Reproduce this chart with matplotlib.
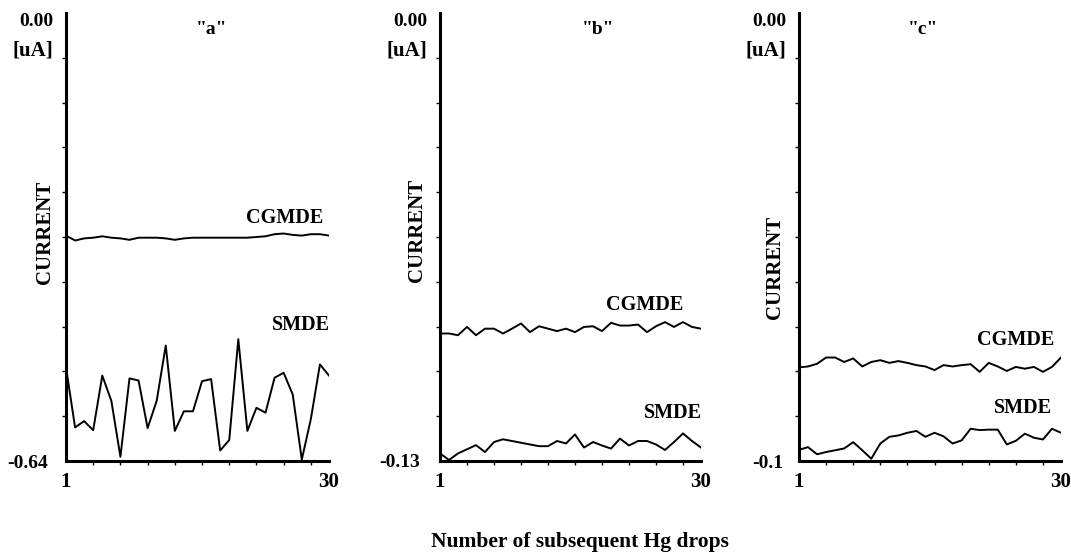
import matplotlib
matplotlib.use('Agg')
import matplotlib.pyplot as plt
import numpy as np

plt.rcParams['font.family'] = ['Liberation Serif', 'DejaVu Serif']
plt.rcParams['font.weight'] = 'bold'

drops = list(range(1, 31))

# panel "a" (0 .. -0.64 uA)
cgmde_a = [-0.318, -0.325, -0.322, -0.321, -0.319, -0.321, -0.322, -0.324, -0.321, -0.321,
           -0.321, -0.322, -0.324, -0.322, -0.321, -0.321, -0.321, -0.321, -0.321, -0.321,
           -0.321, -0.320, -0.319, -0.316, -0.315, -0.317, -0.318, -0.316, -0.316, -0.318]
smde_a = [-0.506, -0.592, -0.583, -0.596, -0.518, -0.554, -0.634, -0.522, -0.525, -0.593,
          -0.554, -0.475, -0.597, -0.569, -0.569, -0.526, -0.523, -0.625, -0.610, -0.466,
          -0.597, -0.564, -0.571, -0.521, -0.514, -0.545, -0.638, -0.580, -0.502, -0.518]

# panel "b" (0 .. -0.13 uA)
cgmde_b = [-0.0930, -0.0930, -0.0935, -0.0911, -0.0935, -0.0916, -0.0916, -0.0930, -0.0916, -0.0901,
           -0.0926, -0.0909, -0.0916, -0.0923, -0.0916, -0.0926, -0.0911, -0.0909, -0.0923, -0.0899,
           -0.0907, -0.0907, -0.0904, -0.0926, -0.0909, -0.0897, -0.0911, -0.0897, -0.0911, -0.0916]
smde_b = [-0.1278, -0.1297, -0.1278, -0.1266, -0.1254, -0.1274, -0.1245, -0.1237, -0.1242, -0.1247,
          -0.1252, -0.1257, -0.1257, -0.1242, -0.1249, -0.1223, -0.1261, -0.1245, -0.1255, -0.1264,
          -0.1235, -0.1255, -0.1242, -0.1242, -0.1252, -0.1268, -0.1245, -0.1220, -0.1242, -0.1261]

# panel "c" (0 .. -0.1 uA)
cgmde_c = [-0.0791, -0.0789, -0.0783, -0.0769, -0.0769, -0.0779, -0.0771, -0.0789, -0.0779, -0.0775,
           -0.0781, -0.0777, -0.0781, -0.0786, -0.0789, -0.0797, -0.0786, -0.0789, -0.0786, -0.0784,
           -0.0801, -0.0781, -0.0789, -0.0799, -0.0790, -0.0794, -0.0790, -0.0801, -0.0790, -0.0769]
smde_c = [-0.0975, -0.0969, -0.0985, -0.0980, -0.0976, -0.0972, -0.0958, -0.0976, -0.0995, -0.0961,
          -0.0946, -0.0943, -0.0937, -0.0933, -0.0946, -0.0937, -0.0945, -0.0961, -0.0954, -0.0928,
          -0.0931, -0.0930, -0.0930, -0.0963, -0.0955, -0.0939, -0.0948, -0.0952, -0.0928, -0.0937]

titles = ['"a"', '"b"', '"c"']
ymin_labels = ['-0.64', '-0.13', '-0.1']
ymins = [-0.64, -0.13, -0.1]

W, H = 1071, 552
fig = plt.figure(figsize=(W / 100, H / 100), dpi=100)

def fx(x):
    return x / W

def fy(y):
    return 1 - y / H

# pixel boxes of the three plots: left, right
boxes = [(66, 329), (440, 701), (799, 1061)]
top, bottom = 13, 461
series = [(cgmde_a, smde_a), (cgmde_b, smde_b), (cgmde_c, smde_c)]
# label positions (right edge x, centre y) for CGMDE / SMDE
lab_pos = [((323, 218), (330, 325)), ((683, 305), (702, 413)), ((1054, 340), (1052, 408))]
title_x = [212, 598, 923]
cur_pos = [(45, 232), (417, 230), (775, 267)]
tick_pad = [18, 20, 16]

for i in range(3):
    l, r = boxes[i]
    ax = fig.add_axes([fx(l), fy(bottom), fx(r - l), (bottom - top) / H])
    cg, sm = series[i]
    ax.plot(drops, cg, color='black', lw=1.4)
    ax.plot(drops, sm, color='black', lw=1.4)
    ax.set_xlim(1, 30)
    ax.set_ylim(ymins[i], 0)
    for s in ['top', 'right']:
        ax.spines[s].set_visible(False)
    for s in ['left', 'bottom']:
        ax.spines[s].set_linewidth(2.2)
    ax.set_xticks([1, 30])
    ax.set_xticklabels(['1', '30'], fontsize=15, fontweight='bold')
    ax.set_xticks(range(4, 30, 3), minor=True)
    ax.set_yticks([ymins[i]])
    ax.set_yticklabels([ymin_labels[i]], fontsize=14, fontweight='bold')
    ax.set_yticks(np.linspace(ymins[i], 0, 11)[1:-1], minor=True)
    ax.tick_params(axis='both', which='major', length=0)
    ax.tick_params(axis='x', which='major', pad=8)
    ax.tick_params(axis='y', which='major', pad=tick_pad[i] * 0.72)
    ax.tick_params(axis='both', which='minor', length=3, width=1, direction='out')

    fig.text(fx(l - 13), fy(22), '0.00', ha='right', va='center', fontsize=14)
    fig.text(fx(l - 13), fy(50), '[uA]', ha='right', va='center', fontsize=15)
    fig.text(fx(title_x[i]), fy(30), titles[i], ha='center', va='center', fontsize=14)
    fig.text(fx(cur_pos[i][0]), fy(cur_pos[i][1]), 'CURRENT', ha='center', va='center',
             rotation=90, fontsize=15)
    (cx, cy), (sx, sy) = lab_pos[i]
    fig.text(fx(cx), fy(cy), 'CGMDE', ha='right', va='center', fontsize=14.5)
    fig.text(fx(sx), fy(sy), 'SMDE', ha='right', va='center', fontsize=14.5)

fig.text(fx(580), fy(542), 'Number of subsequent Hg drops', ha='center', va='center', fontsize=15.5)

fig.savefig('out.png', dpi=100)
